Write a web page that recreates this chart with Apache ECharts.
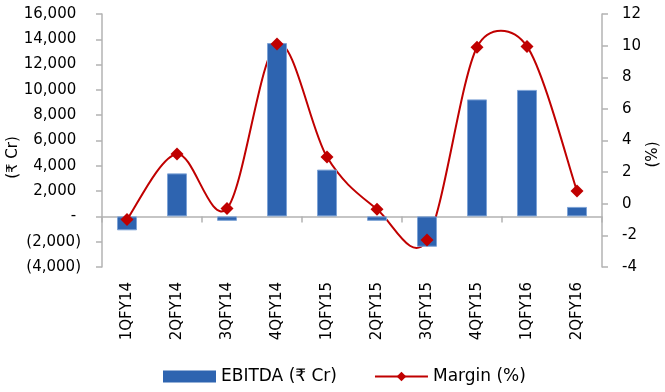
<!DOCTYPE html>
<html>
<head>
<meta charset="utf-8">
<script src="https://cdn.jsdelivr.net/npm/echarts@6/dist/echarts.min.js"></script>
<style>
  html, body { margin: 0; padding: 0; background: #fff; }
  #chart { width: 665px; height: 392px; }
</style>
</head>
<body>
<div id="chart"></div>
<script>
var quarters = ['1QFY14', '2QFY14', '3QFY14', '4QFY14', '1QFY15', '2QFY15', '3QFY15', '4QFY15', '1QFY16', '2QFY16'];
var ebitda = [-1100, 3400, -350, 13700, 3700, -350, -2400, 9250, 10000, 750];
var margin = [-1.0, 3.15, -0.3, 10.1, 2.95, -0.35, -2.3, 9.9, 9.95, 0.8];
var leftTicks = [-4000, 16000, 2000];   // min, max, step
var rightTicks = [-4, 12, 2];

var axisGrey = '#b3b3b3';
var red = '#c00000';
var font = 'DejaVu Sans';

function fmtLeft(v) {
    if (v === 0) return '- ';
    var s = Math.abs(v).toLocaleString('en-US');
    return v < 0 ? '(' + s + ')' : s + ' ';
}

function dist(a, b) {
    return Math.sqrt((a[0] - b[0]) * (a[0] - b[0]) + (a[1] - b[1]) * (a[1] - b[1]));
}

// handle at p1 heading to p2: (p2 - p0) / 6, but never longer than half of the segment
function handle(p0, p1, p2, seg) {
    var h = [(p2[0] - p0[0]) / 6, (p2[1] - p0[1]) / 6];
    var len = Math.sqrt(h[0] * h[0] + h[1] * h[1]);
    var k = len > seg / 2 ? (seg / 2) / len : 1;
    return [h[0] * k, h[1] * k];
}

// excel-style smoothed line drawn through the axis coords of the margin values
function smoothPath(params, api) {
    if (params.dataIndex !== 0) return null;
    var pts = margin.map(function (v, i) { return api.coord([i, v]); });
    var n = pts.length;
    var d = 'M' + pts[0][0] + ' ' + pts[0][1];
    for (var i = 0; i < n - 1; i++) {
        var p0 = pts[Math.max(i - 1, 0)], p1 = pts[i], p2 = pts[i + 1], p3 = pts[Math.min(i + 2, n - 1)];
        var seg = dist(p1, p2);
        var h1 = handle(p0, p1, p2, seg);
        var h2 = handle(p1, p2, p3, seg);
        var c1 = [p1[0] + h1[0], p1[1] + h1[1]];
        var c2 = [p2[0] - h2[0], p2[1] - h2[1]];
        d += ' C' + c1[0] + ' ' + c1[1] + ' ' + c2[0] + ' ' + c2[1] + ' ' + p2[0] + ' ' + p2[1];
    }
    return {
        type: 'path',
        shape: {pathData: d},
        style: {fill: null, stroke: red, lineWidth: 2}
    };
}

var option = {
    animation: false,
    grid: {left: 102, right: 63, top: 14, bottom: 125, outerBoundsMode: 'none'},
    legend: {
        left: 158,
        bottom: 2,
        itemWidth: 53,
        itemHeight: 12,
        itemGap: 37,
        textStyle: {fontFamily: font, fontSize: 17, color: '#000'},
        data: [
            {name: 'EBITDA (₹ Cr)', icon: 'rect', itemStyle: {borderWidth: 0}},
            {name: 'Margin (%)', lineStyle: {color: red, width: 2, opacity: 1}}
        ]
    },
    xAxis: [
        {
            type: 'category',
            position: 'bottom',
            data: quarters,
            axisLine: {show: false, onZero: false},
            axisTick: {show: false},
            axisLabel: {rotate: 90, margin: 15, fontFamily: font, fontSize: 15, color: '#000'}
        },
        {
            type: 'category',
            position: 'top',
            data: quarters,
            axisLine: {show: true, onZero: true, lineStyle: {color: axisGrey, width: 1.5}},
            axisTick: {show: true, inside: true, length: 6, lineStyle: {color: axisGrey, width: 1.5}},
            axisLabel: {show: false}
        }
    ],
    yAxis: [
        {
            type: 'value',
            min: leftTicks[0], max: leftTicks[1], interval: leftTicks[2],
            name: '(₹ Cr)',
            nameLocation: 'middle',
            nameRotate: 90,
            nameGap: 81,
            nameMoveOverlap: false,
            nameTextStyle: {fontFamily: font, fontSize: 15, color: '#000', padding: [0, 34, 0, 0]},
            splitLine: {show: false},
            axisLine: {show: true, lineStyle: {color: axisGrey, width: 1.5}},
            axisTick: {show: true, length: 6, lineStyle: {color: axisGrey, width: 1.5}},
            axisLabel: {margin: 21, fontFamily: font, fontSize: 15, color: '#000', formatter: fmtLeft}
        },
        {
            type: 'value',
            min: rightTicks[0], max: rightTicks[1], interval: rightTicks[2],
            name: '(%)',
            nameLocation: 'middle',
            nameRotate: 90,
            nameGap: 44,
            nameMoveOverlap: false,
            nameTextStyle: {fontFamily: font, fontSize: 15, color: '#000', padding: [0, 28, 0, 0]},
            splitLine: {show: false},
            axisLine: {show: true, lineStyle: {color: axisGrey, width: 1.5}},
            axisTick: {show: true, length: 6, lineStyle: {color: axisGrey, width: 1.5}},
            axisLabel: {margin: 20, fontFamily: font, fontSize: 15, color: '#000'}
        }
    ],
    series: [
        {
            name: 'EBITDA (₹ Cr)',
            type: 'bar',
            xAxisIndex: 0,
            yAxisIndex: 0,
            barWidth: 20,
            itemStyle: {color: '#2e64b0', borderColor: '#7ea3d6', borderWidth: 1},
            data: ebitda
        },
        {
            name: 'margin curve',
            type: 'custom',
            xAxisIndex: 0,
            yAxisIndex: 1,
            renderItem: smoothPath,
            data: [[0, margin[0]]],
            silent: true
        },
        {
            name: 'Margin (%)',
            type: 'line',
            xAxisIndex: 0,
            yAxisIndex: 1,
            symbol: 'diamond',
            symbolSize: 13,
            lineStyle: {color: red, width: 0, opacity: 0},
            itemStyle: {color: red},
            data: margin
        }
    ]
};

var myChart = echarts.init(document.getElementById('chart'));
myChart.setOption(option);
</script>
</body>
</html>
